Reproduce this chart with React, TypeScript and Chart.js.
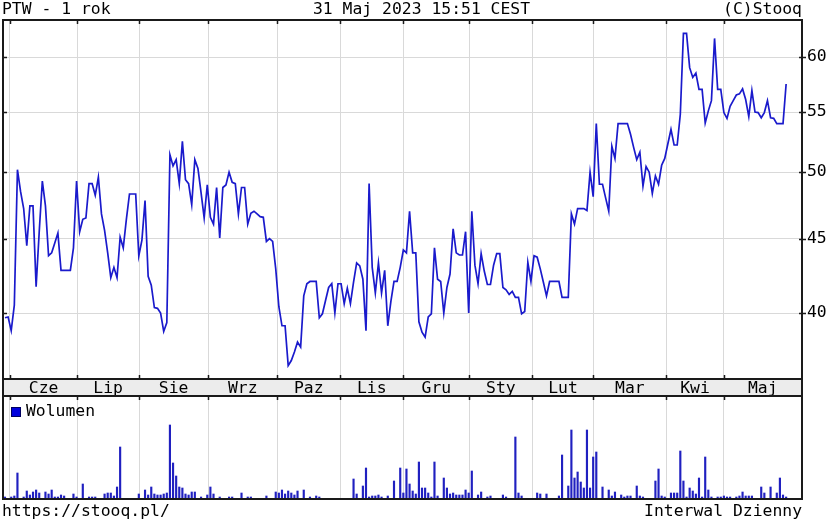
import React, { useEffect, useRef } from "react";
import { Chart, registerables } from "chart.js";

Chart.register(...registerables);

const FONT = "'DejaVu Sans Mono', monospace";
const FONT_SIZE = 16.4;
const LINE_COLOR = "#1a1acc";
const BAR_COLOR = "#2020c0";
const GRID_COLOR = "#d9d9d9";
const FRAME_COLOR = "#1a1a1a";
const BAND_COLOR = "#ececec";

// ---- data ----
const monthLabels = ["Cze", "Lip", "Sie", "Wrz", "Paz", "Lis", "Gru", "Sty", "Lut", "Mar", "Kwi", "Maj"];
// month boundaries, in trading-day index units
const monthStarts = [1.6, 23.2, 43.1, 65.3, 87.5, 107.7, 128, 149.2, 169.5, 189.1, 212.5, 230.9];
const priceTicks = [40, 45, 50, 55, 60];

// daily close (PLN), one per trading day, 31.05.2022 - 31.05.2023
const prices = [
  39.7, 39.75, 38.9, 40.5, 50.2, 48.5, 47.2, 44.5, 47.4, 47.4,
  41.7, 45.5, 49.3, 47.4, 43.8, 44.0, 44.7, 45.4, 42.8, 42.8,
  42.8, 42.8, 44.35, 49.3, 45.5, 46.4, 46.5, 49.1, 49.1, 48.2,
  49.6, 46.8, 45.6, 44.0, 42.3, 43.0, 42.3, 45.1, 44.35, 46.4,
  48.3, 48.3, 48.3, 43.8, 44.9, 47.8, 42.4, 41.8, 40.35, 40.3,
  40.0, 38.85, 39.4, 51.4, 50.5, 51.0, 49.1, 52.5, 49.4, 49.1,
  47.5, 51.0, 50.3, 48.4, 46.5, 49.0, 46.55, 46.05, 48.8, 45.05,
  48.8, 49.0, 50.0, 49.2, 49.1, 46.8, 48.8, 48.8, 46.05, 46.85,
  47.0, 46.8, 46.6, 46.55, 44.8, 45.0, 44.8, 42.9, 40.4, 39.2,
  39.2, 36.8, 37.1, 37.6, 38.2, 37.9, 41.1, 41.9, 42.05, 42.05,
  42.05, 39.7, 39.95, 40.8, 41.65, 41.9, 40.0, 41.9, 41.9, 40.6,
  41.6, 40.6, 42.0, 43.3, 43.1, 42.2, 38.9, 49.1, 43.0, 41.3,
  43.3, 41.3, 42.8, 39.2, 40.75, 42.05, 42.05, 43.0, 44.2, 44.0,
  47.0, 44.0, 44.0, 39.45, 38.8, 38.5, 39.75, 39.95, 44.35, 42.2,
  42.05, 40.0, 41.65, 42.55, 45.7, 44.0, 43.85, 43.85, 45.5, 40.0,
  47.0, 43.15, 41.9, 43.95, 42.75, 41.85, 41.85, 43.15, 43.95, 43.95,
  41.65, 41.5, 41.2, 41.4, 41.0, 41.0, 39.95, 40.1, 43.35, 42.05,
  43.8, 43.7, 42.9, 42.0, 41.1, 42.05, 42.05, 42.05, 42.05, 41.0,
  41.0, 41.0, 46.8, 46.05, 47.2, 47.2, 47.2, 47.05, 50.0, 48.1,
  54.0, 49.05, 49.05, 48.0, 47.0, 52.1, 51.1, 54.0, 54.0, 54.0,
  54.0, 53.1, 52.0, 51.0, 51.6, 48.9, 50.45, 50.0, 48.35, 49.7,
  49.05, 50.55, 51.1, 52.3, 53.5, 52.2, 52.2, 54.8, 62.3, 62.3,
  59.0, 58.1, 58.5, 57.0, 57.0, 54.05, 55.1, 56.0, 61.8, 57.0,
  57.0, 54.95, 54.45, 55.5, 56.0, 56.5, 56.6, 57.05, 56.1, 54.6,
  56.9, 55.0, 54.95, 54.5, 54.95, 56.0, 54.5, 54.45, 54.0, 54.0,
  54.0, 57.5,
];

// daily volume (relative units)
const volumes = [
  2, 0, 2, 3, 26, 0, 2, 8, 4, 7,
  9, 6, 0, 7, 5, 9, 2, 2, 4, 3,
  0, 0, 5, 2, 0, 15, 0, 2, 2, 2,
  0, 0, 5, 6, 6, 3, 12, 52, 0, 0,
  0, 0, 0, 5, 0, 9, 4, 12, 5, 4,
  4, 5, 6, 74, 36, 23, 12, 11, 5, 4,
  7, 7, 0, 2, 0, 4, 12, 5, 0, 2,
  0, 0, 2, 2, 0, 0, 6, 0, 2, 2,
  0, 0, 0, 0, 3, 0, 0, 7, 6, 9,
  5, 8, 6, 4, 8, 0, 9, 0, 2, 0,
  3, 2, 0, 0, 0, 0, 0, 0, 0, 0,
  0, 0, 20, 5, 0, 13, 31, 2, 3, 3,
  4, 2, 0, 3, 0, 18, 0, 31, 6, 30,
  15, 8, 5, 37, 11, 11, 6, 2, 37, 3,
  0, 21, 11, 5, 6, 4, 4, 4, 9, 6,
  28, 0, 4, 7, 0, 2, 3, 0, 0, 0,
  4, 2, 0, 0, 62, 6, 3, 0, 0, 0,
  0, 6, 5, 0, 5, 0, 0, 0, 3, 44,
  0, 13, 69, 21, 27, 17, 11, 69, 11, 42,
  47, 0, 12, 0, 9, 3, 7, 0, 4, 2,
  3, 3, 0, 13, 3, 2, 0, 0, 0, 18,
  30, 3, 2, 0, 6, 6, 6, 48, 18, 2,
  11, 8, 5, 21, 2, 42, 9, 2, 0, 2,
  2, 3, 2, 2, 0, 2, 3, 7, 3, 3,
  3, 0, 0, 12, 6, 0, 12, 0, 6, 21,
  4, 2,
];

// axis ranges
const X_MIN = -0.64;
const X_MAX = 256.1;
const Y_MIN = 36.03;
const Y_MAX = 63.63;
const VOL_MAX = 103;

const labelCenters = monthStarts.map((s, i) => (s + (i + 1 < monthStarts.length ? monthStarts[i + 1] : X_MAX)) / 2);

const font = { family: FONT, size: FONT_SIZE, lineHeight: 1 };

function drawTicksX(ctx: CanvasRenderingContext2D, scale: any, y: number, dir: number) {
  for (const v of monthStarts) {
    const px = Math.round(scale.getPixelForValue(v)) + 0.5;
    ctx.beginPath();
    ctx.moveTo(px, y);
    ctx.lineTo(px, y + dir * 4);
    ctx.stroke();
  }
}

const priceFrame = {
  id: "priceFrame",
  afterDraw(chart: any) {
    const { ctx, chartArea: a } = chart;
    const band = chart.scales.xl;
    ctx.save();
    ctx.strokeStyle = FRAME_COLOR;
    ctx.lineWidth = 2;
    ctx.strokeRect(a.left, a.top, a.right - a.left, a.bottom - a.top);
    ctx.beginPath();
    ctx.moveTo(a.left, a.bottom);
    ctx.lineTo(a.left, band.bottom);
    ctx.moveTo(a.right, a.bottom);
    ctx.lineTo(a.right, band.bottom);
    ctx.moveTo(a.left - 1, band.bottom - 1);
    ctx.lineTo(a.right + 1, band.bottom - 1);
    ctx.stroke();
    ctx.lineWidth = 1.5;
    drawTicksX(ctx, chart.scales.x, a.top, 1);
    drawTicksX(ctx, chart.scales.x, a.bottom, -1);
    const ys = chart.scales.y;
    for (const v of priceTicks) {
      const py = Math.round(ys.getPixelForValue(v)) + 0.5;
      ctx.beginPath();
      ctx.moveTo(a.left, py);
      ctx.lineTo(a.left + 4, py);
      ctx.moveTo(a.right - 3, py);
      ctx.lineTo(a.right + 4, py);
      ctx.stroke();
    }
    ctx.restore();
  },
};

const volumeFrame = {
  id: "volumeFrame",
  afterDraw(chart: any) {
    const { ctx, chartArea: a } = chart;
    ctx.save();
    ctx.strokeStyle = FRAME_COLOR;
    ctx.lineWidth = 2;
    ctx.strokeRect(a.left, a.top, a.right - a.left, a.bottom - a.top);
    ctx.lineWidth = 1.5;
    drawTicksX(ctx, chart.scales.x, a.top, 1);
    ctx.restore();
  },
};

export default function App() {
  const priceRef = useRef<HTMLCanvasElement>(null);
  const volRef = useRef<HTMLCanvasElement>(null);

  useEffect(() => {
    const priceChart = new Chart(priceRef.current as HTMLCanvasElement, {
      type: "line",
      data: {
        datasets: [
          {
            data: prices.map((p, i) => ({ x: i, y: p })),
            borderColor: LINE_COLOR,
            borderWidth: 1.7,
            pointRadius: 0,
            tension: 0,
            fill: false,
          },
        ],
      },
      options: {
        animation: false,
        responsive: false,
        maintainAspectRatio: false,
        layout: { padding: { left: 3, top: 20, right: 0, bottom: 0 } },
        plugins: { legend: { display: false }, tooltip: { enabled: false } },
        scales: {
          x: {
            type: "linear",
            position: "bottom",
            min: X_MIN,
            max: X_MAX,
            bounds: "data",
            weight: 0,
            afterBuildTicks: (s: any) => {
              s.ticks = monthStarts.map((v) => ({ value: v }));
            },
            ticks: { display: false },
            grid: { color: GRID_COLOR, lineWidth: 1, drawTicks: false },
            border: { display: false },
          },
          xl: {
            type: "linear",
            position: "bottom",
            min: X_MIN,
            max: X_MAX,
            bounds: "data",
            weight: 1,
            backgroundColor: BAND_COLOR,
            afterBuildTicks: (s: any) => {
              s.ticks = labelCenters.map((v) => ({ value: v }));
            },
            afterFit: (s: any) => {
              s.height = 18;
            },
            ticks: {
              callback: (_v: any, i: number) => monthLabels[i],
              font,
              color: "#000",
              padding: 1.5,
              maxRotation: 0,
              autoSkip: false,
            },
            grid: { display: false, drawTicks: false },
            border: { display: false },
          },
          y: {
            type: "logarithmic",
            position: "right",
            min: Y_MIN,
            max: Y_MAX,
            bounds: "data",
            afterBuildTicks: (s: any) => {
              s.ticks = priceTicks.map((v) => ({ value: v }));
            },
            afterFit: (s: any) => {
              s.width = 27;
            },
            ticks: {
              callback: (v: any) => String(v),
              font,
              color: "#000",
              padding: 5,
              autoSkip: false,
            },
            grid: { color: GRID_COLOR, lineWidth: 1, drawTicks: false },
            border: { display: false },
          },
        },
      } as any,
      plugins: [priceFrame],
    });

    const volumeChart = new Chart(volRef.current as HTMLCanvasElement, {
      type: "bar",
      data: {
        datasets: [
          {
            data: volumes.map((v, i) => ({ x: i, y: v })),
            backgroundColor: BAR_COLOR,
            borderWidth: 0,
            barThickness: 1.5,
            grouped: false,
          } as any,
        ],
      },
      options: {
        animation: false,
        responsive: false,
        maintainAspectRatio: false,
        layout: { padding: { left: 3, top: 6, right: 27, bottom: 6 } },
        plugins: { legend: { display: false }, tooltip: { enabled: false } },
        scales: {
          x: {
            type: "linear",
            min: X_MIN,
            max: X_MAX,
            bounds: "data",
            offset: false,
            afterBuildTicks: (s: any) => {
              s.ticks = monthStarts.map((v) => ({ value: v }));
            },
            ticks: { display: false },
            grid: { color: GRID_COLOR, lineWidth: 1, drawTicks: false, offset: false },
            border: { display: false },
          },
          y: { display: false, min: 0, max: VOL_MAX },
        },
      } as any,
      plugins: [volumeFrame],
    });

    return () => {
      priceChart.destroy();
      volumeChart.destroy();
    };
  }, []);

  const text: React.CSSProperties = {
    position: "absolute",
    lineHeight: "19px",
    whiteSpace: "pre",
    fontFamily: FONT,
    fontSize: FONT_SIZE,
    color: "#000",
  };

  return (
    <div
      style={{
        position: "fixed",
        left: 0,
        top: 0,
        width: 829,
        height: 525,
        background: "#fff",
        overflow: "hidden",
      }}
    >
      <canvas ref={priceRef} width={829} height={397} style={{ position: "absolute", left: 0, top: 0 }} />
      <canvas ref={volRef} width={829} height={115} style={{ position: "absolute", left: 0, top: 390 }} />
      <div style={{ ...text, left: 2, top: -1 }}>PTW - 1 rok</div>
      <div style={{ ...text, left: 313, top: -1 }}>31 Maj 2023 15:51 CEST</div>
      <div style={{ ...text, right: 27, top: -1 }}>(C)Stooq</div>
      <div style={{ ...text, left: 2, top: 501 }}>https://stooq.pl/</div>
      <div style={{ ...text, right: 27, top: 501 }}>Interwal Dzienny</div>
      <div
        style={{
          position: "absolute",
          left: 11,
          top: 407,
          width: 8,
          height: 8,
          background: "#0000dd",
          border: "1px solid #000060",
        }}
      />
      <div style={{ ...text, left: 26, top: 401 }}>Wolumen</div>
    </div>
  );
}
